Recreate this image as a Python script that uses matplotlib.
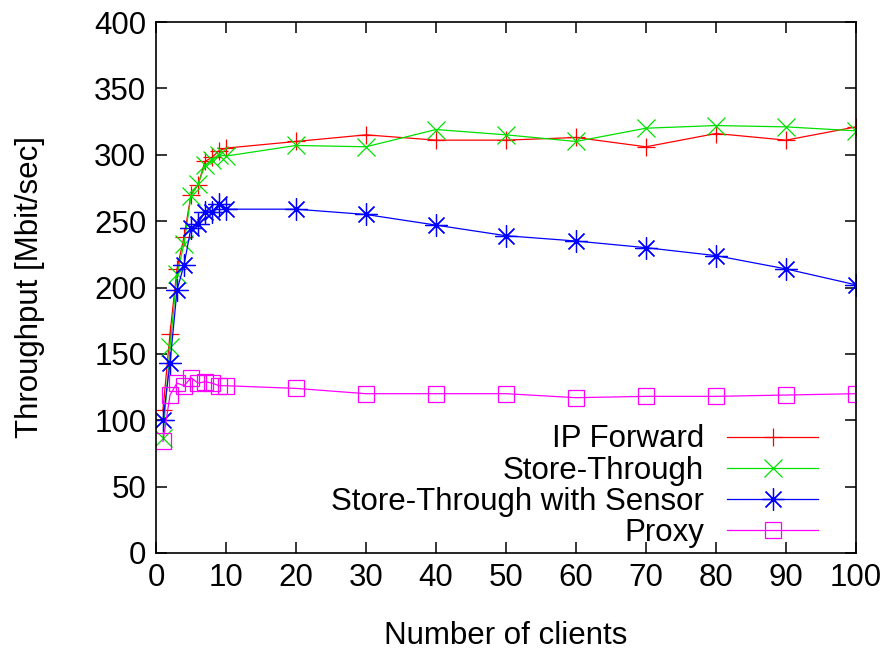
import matplotlib
matplotlib.use("Agg")
import matplotlib.pyplot as plt

plt.rcParams["font.family"] = ["Liberation Sans", "DejaVu Sans"]

# =========================
# DATOS
# =========================
clientes = [1, 2, 3, 4, 5, 6, 7, 8, 9, 10, 20, 30, 40, 50, 60, 70, 80, 90, 100]

ip_forward = [108, 165, 214, 238, 270, 277, 295, 298, 303, 305,
              310, 315, 311, 311, 313, 306, 316, 311, 321]
store_through = [87, 155, 210, 233, 269, 278, 292, 296, 300, 299,
                 307, 306, 319, 315, 310, 320, 322, 321, 318]
store_sensor = [100, 143, 198, 217, 245, 248, 257, 257, 263, 259,
                259, 255, 247, 239, 235, 230, 224, 214, 202]
proxy = [84, 119, 128, 126, 132, 128, 129, 128, 126, 126,
         124, 120, 120, 120, 117, 118, 118, 119, 120]

series = [
    ("IP Forward", ip_forward, "#ff0000", "+", 13),
    ("Store-Through", store_through, "#00e000", "x", 13),
    ("Store-Through with Sensor", store_sensor, "#0000ff", (8, 2, 0), 16),
    ("Proxy", proxy, "#ff00ff", "s", 11),
]

TAM_LETRA = 22.5

# =========================
# GRAFICO
# =========================
fig = plt.figure(figsize=(8.92, 6.53), dpi=100)
ax = fig.add_axes([156 / 892, 1 - 553 / 653, 700 / 892, 531 / 653])

for nombre, valores, color, marca, tam in series:
    ax.plot(clientes, valores, color=color, linewidth=0.9, marker=marca,
            markersize=tam, markerfacecolor="none", markeredgecolor=color,
            markeredgewidth=0.9, label=nombre)

ax.set_xlim(0, 100)
ax.set_ylim(0, 400)
ax.set_xticks(range(0, 101, 10))
ax.set_yticks(range(0, 401, 50))
ax.tick_params(direction="in", length=8, width=1.1, labelsize=TAM_LETRA,
               top=True, right=True, pad=7)
for spine in ax.spines.values():
    spine.set_linewidth(1.2)

ax.set_xlabel("Number of clients", fontsize=TAM_LETRA, labelpad=20)
ax.set_ylabel("Throughput [Mbit/sec]", fontsize=TAM_LETRA, labelpad=35)

ax.legend(loc="lower right", bbox_to_anchor=(0.9457, 0.009), frameon=False,
          markerfirst=False, fontsize=TAM_LETRA, handlelength=2.9,
          handletextpad=0.75, labelspacing=0.04, borderpad=0,
          borderaxespad=0)

fig.savefig("out.png", dpi=100)
